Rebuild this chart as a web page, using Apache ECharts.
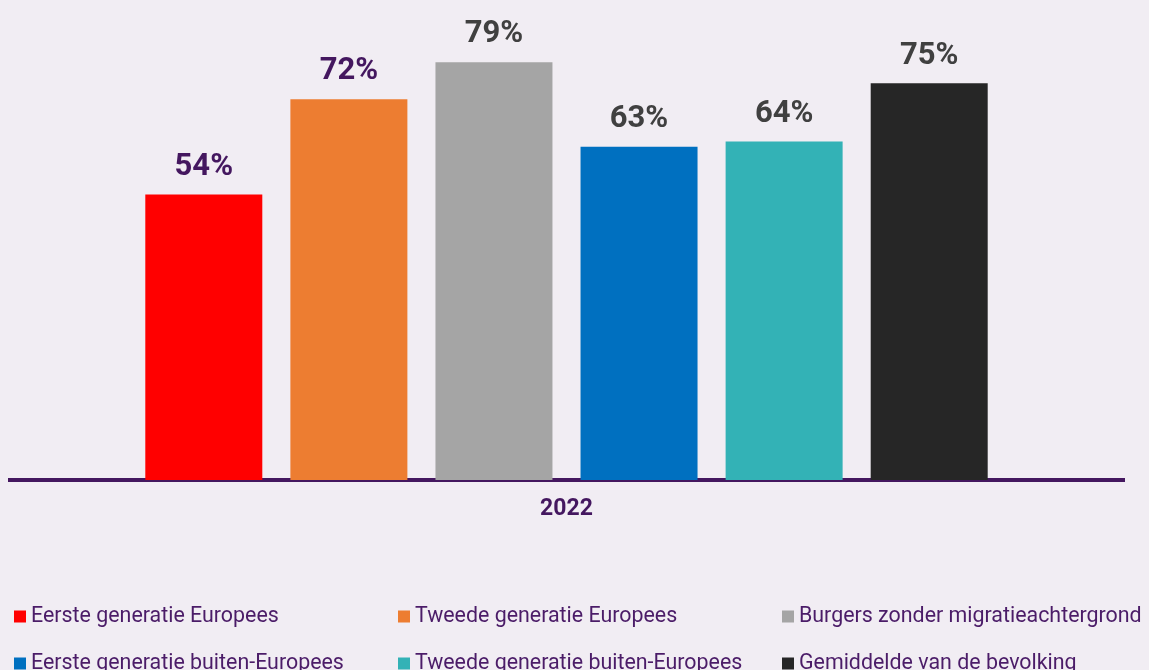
<!DOCTYPE html>
<html>
<head>
<meta charset="utf-8">
<script src="https://cdn.jsdelivr.net/npm/echarts@6/dist/echarts.min.js"></script>
<style>
html,body{margin:0;padding:0;background:#f1edf3;}
#c{width:1149px;height:670px;}
</style>
</head>
<body>
<div id="c"></div>
<script>
const categories = ['2022'];
const seriesNames = [
  'Eerste generatie Europees',
  'Tweede generatie Europees',
  'Burgers zonder migratieachtergrond',
  'Eerste generatie buiten-Europees',
  'Tweede generatie buiten-Europees',
  'Gemiddelde van de bevolking'
];
const values = [54, 72, 79, 63, 64, 75];
const colors = ['#ff0000', '#ed7d31', '#a5a5a5', '#0070c0', '#33b2b6', '#262626'];
const labelColors = ['#44175f', '#44175f', '#404040', '#404040', '#404040', '#404040'];

const legendPos = [
  {left: 9, top: 601}, {left: 393, top: 601}, {left: 777, top: 601},
  {left: 9, top: 648}, {left: 393, top: 648}, {left: 777, top: 648}
];

const chart = echarts.init(document.getElementById('c'));
chart.setOption({
  backgroundColor: '#f1edf3',
  animation: false,
  grid: {left: 8, right: 24, top: 4, bottom: 190},
  xAxis: {
    type: 'category',
    data: categories,
    axisLine: {lineStyle: {color: '#44175f', width: 4, cap: 'butt'}},
    axisTick: {show: false},
    axisLabel: {color: '#44175f', fontFamily: 'Roboto', fontWeight: 'bold', fontSize: 23, margin: 18}
  },
  yAxis: {type: 'value', min: 0, max: 90, show: false, splitLine: {show: false}},
  legend: legendPos.map((p, i) => ({
    data: [seriesNames[i]],
    left: p.left, top: p.top,
    icon: 'rect', itemWidth: 12, itemHeight: 12, itemGap: 0,
    textStyle: {color: '#4b1c68', fontFamily: 'Roboto', fontSize: 21.4}
  })),
  series: seriesNames.map((name, i) => ({
    name: name,
    type: 'bar',
    data: [values[i]],
    barWidth: 117,
    barGap: '24%',
    itemStyle: {color: colors[i]},
    label: {
      show: true, position: 'top', distance: 12,
      formatter: '{c}%',
      color: labelColors[i], fontFamily: 'Roboto', fontWeight: 'bold', fontSize: 31
    }
  }))
});
</script>
</body>
</html>
